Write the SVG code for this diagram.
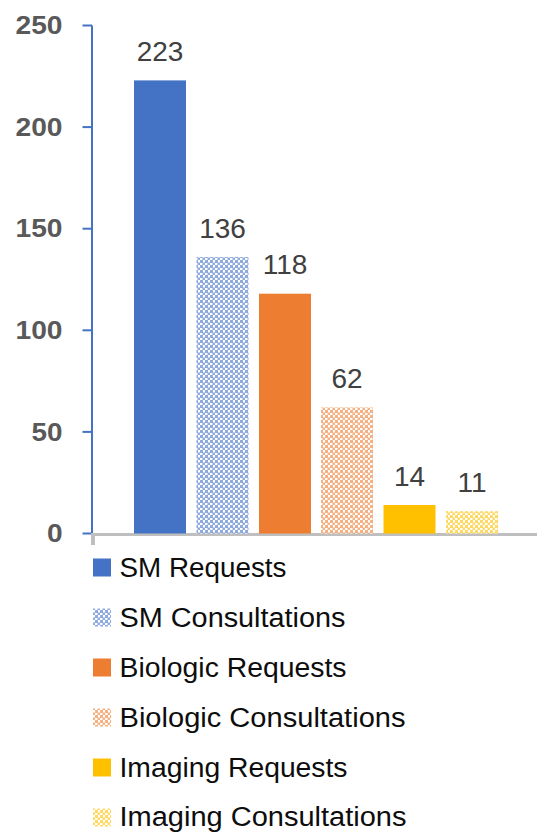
<svg xmlns="http://www.w3.org/2000/svg" width="537" height="832" viewBox="0 0 537 832">
<defs>
<pattern id="pBlue" width="5" height="5" patternUnits="userSpaceOnUse">
<rect width="5" height="5" fill="#ffffff"/>
<rect x="0" y="0" width="3" height="3" fill="#8FAADC"/>
<rect x="2.5" y="2.5" width="3" height="3" fill="#8FAADC"/>
</pattern>
<pattern id="pOrange" width="5" height="5" patternUnits="userSpaceOnUse">
<rect width="5" height="5" fill="#ffffff"/>
<rect x="0" y="0" width="3" height="3" fill="#F4B183"/>
<rect x="2.5" y="2.5" width="3" height="3" fill="#F4B183"/>
</pattern>
<pattern id="pYellow" width="5" height="5" patternUnits="userSpaceOnUse">
<rect width="5" height="5" fill="#ffffff"/>
<rect x="0" y="0" width="3" height="3" fill="#FFD966"/>
<rect x="2.5" y="2.5" width="3" height="3" fill="#FFD966"/>
</pattern>
</defs>
<style>
.ax{font-family:"Liberation Sans",Arial,sans-serif;font-weight:bold;font-size:25px;fill:#595959;text-anchor:end}
.dl{font-family:"Liberation Sans",Arial,sans-serif;font-size:28px;fill:#404040;text-anchor:middle}
.lg{font-family:"Liberation Sans",Arial,sans-serif;font-size:27px;fill:#0d0d0d}
.blue{fill:#4472C4}.orange{fill:#ED7D31}.yellow{fill:#FFC000}
</style>
<rect width="537" height="832" fill="#ffffff"/>
<g id="axes">
<line x1="92" y1="25.5" x2="92" y2="534.5" stroke="#4472C4" stroke-width="2"/>
<g stroke="#4472C4" stroke-width="2">
<line x1="82.5" y1="25.5" x2="92" y2="25.5"/>
<line x1="82.5" y1="127.1" x2="92" y2="127.1"/>
<line x1="82.5" y1="228.7" x2="92" y2="228.7"/>
<line x1="82.5" y1="330.3" x2="92" y2="330.3"/>
<line x1="82.5" y1="431.9" x2="92" y2="431.9"/>
<line x1="82.5" y1="533.5" x2="92" y2="533.5"/>
</g>
<line x1="91" y1="534.5" x2="537" y2="534.5" stroke="#BFBFBF" stroke-width="3"/>
<line x1="93" y1="534" x2="93" y2="545" stroke="#BFBFBF" stroke-width="4"/>
<text class="ax" x="62.5" y="34.2" textLength="47" lengthAdjust="spacingAndGlyphs">250</text>
<text class="ax" x="62.5" y="135.8" textLength="47" lengthAdjust="spacingAndGlyphs">200</text>
<text class="ax" x="62.5" y="237.4" textLength="47" lengthAdjust="spacingAndGlyphs">150</text>
<text class="ax" x="62.5" y="339" textLength="47" lengthAdjust="spacingAndGlyphs">100</text>
<text class="ax" x="62.5" y="440.6" textLength="31" lengthAdjust="spacingAndGlyphs">50</text>
<text class="ax" x="62.5" y="542.2" textLength="15.6" lengthAdjust="spacingAndGlyphs">0</text>
</g>
<g id="bar-sm-requests">
<rect x="134" y="80.4" width="52" height="453.1" class="blue"/>
<text class="dl" x="160" y="60.5">223</text>
</g>
<g id="bar-sm-consultations">
<rect x="196.5" y="257.1" width="52" height="276.4" fill="url(#pBlue)"/>
<text class="dl" x="222.5" y="237.5">136</text>
</g>
<g id="bar-biologic-requests">
<rect x="259" y="293.7" width="52" height="239.8" class="orange"/>
<text class="dl" x="285" y="274">118</text>
</g>
<g id="bar-biologic-consultations">
<rect x="321" y="407.5" width="52" height="126" fill="url(#pOrange)"/>
<text class="dl" x="347" y="388">62</text>
</g>
<g id="bar-imaging-requests">
<rect x="383.5" y="505" width="52" height="28.5" class="yellow"/>
<text class="dl" x="409.5" y="485.5">14</text>
</g>
<g id="bar-imaging-consultations">
<rect x="446" y="511.2" width="52" height="22.3" fill="url(#pYellow)"/>
<text class="dl" x="472" y="491.7">11</text>
</g>
<g id="legend">
<g id="legend-sm-requests">
<rect x="93" y="558.5" width="18" height="18" class="blue"/>
<text class="lg" x="119.5" y="576.5" textLength="167" lengthAdjust="spacingAndGlyphs">SM Requests</text>
</g>
<g id="legend-sm-consultations">
<rect x="93" y="608.5" width="18" height="18" fill="url(#pBlue)"/>
<text class="lg" x="119.5" y="626.5" textLength="226" lengthAdjust="spacingAndGlyphs">SM Consultations</text>
</g>
<g id="legend-biologic-requests">
<rect x="93" y="658.5" width="18" height="18" class="orange"/>
<text class="lg" x="119.5" y="676.5" textLength="227" lengthAdjust="spacingAndGlyphs">Biologic Requests</text>
</g>
<g id="legend-biologic-consultations">
<rect x="93" y="708.5" width="18" height="18" fill="url(#pOrange)"/>
<text class="lg" x="119.5" y="726.5" textLength="286" lengthAdjust="spacingAndGlyphs">Biologic Consultations</text>
</g>
<g id="legend-imaging-requests">
<rect x="93" y="758.5" width="18" height="18" class="yellow"/>
<text class="lg" x="119.5" y="776.5" textLength="228" lengthAdjust="spacingAndGlyphs">Imaging Requests</text>
</g>
<g id="legend-imaging-consultations">
<rect x="93" y="808.5" width="18" height="18" fill="url(#pYellow)"/>
<text class="lg" x="119.5" y="826" textLength="287" lengthAdjust="spacingAndGlyphs">Imaging Consultations</text>
</g>
</g>
</svg>
